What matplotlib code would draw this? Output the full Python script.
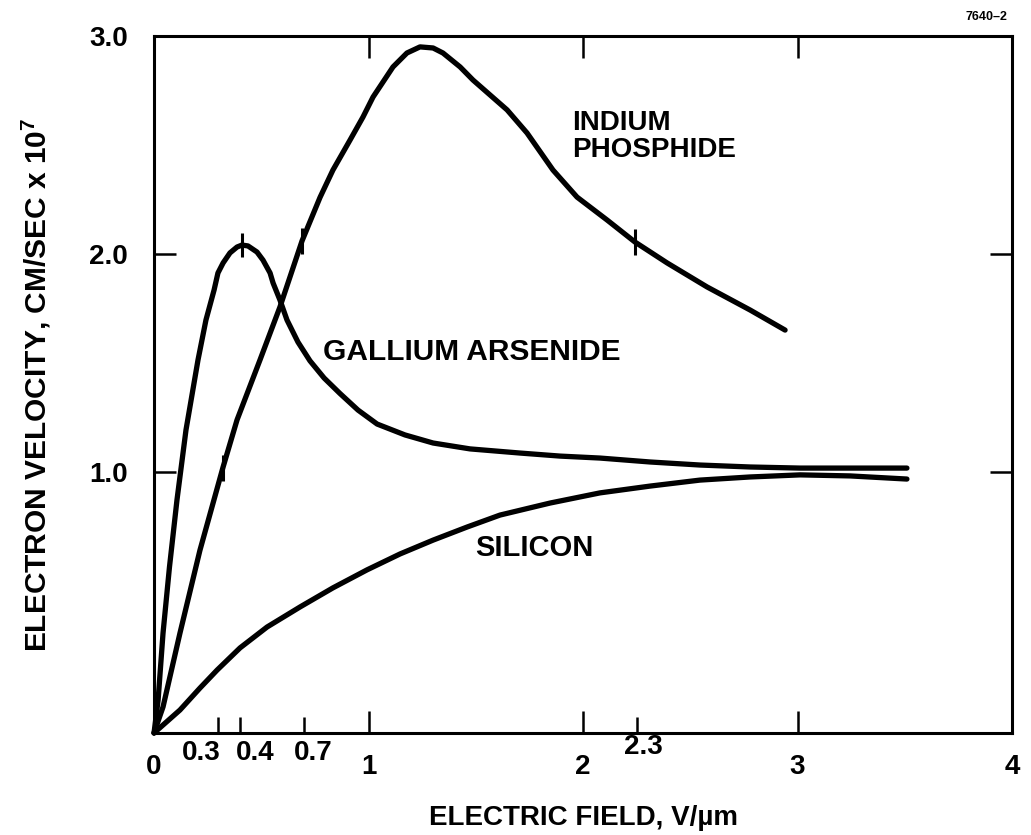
import numpy as np
import matplotlib
matplotlib.use('Agg')
import matplotlib.pyplot as plt

#----------------------------------------------------------------
#              DATA (field in V/um, velocity in 1e7 cm/s)
#----------------------------------------------------------------
gaas_field = [0, 0.019, 0.042, 0.072, 0.107, 0.149, 0.205, 0.242, 0.280, 0.298,
              0.322, 0.354, 0.387, 0.410, 0.438, 0.480, 0.508, 0.541, 0.555, 0.587,
              0.620, 0.671, 0.727, 0.793, 0.867, 0.951, 1.040, 1.170, 1.301, 1.473,
              1.706, 1.893, 2.079, 2.312, 2.545, 2.779, 3.012, 3.510]
gaas_vel = [0, 0.126, 0.383, 0.636, 0.893, 1.193, 1.514, 1.697, 1.835, 1.913,
            1.959, 2.005, 2.032, 2.041, 2.037, 2.009, 1.972, 1.913, 1.867, 1.789,
            1.697, 1.596, 1.51, 1.431, 1.36, 1.284, 1.22, 1.17, 1.133, 1.106,
            1.087, 1.073, 1.064, 1.046, 1.032, 1.023, 1.018, 1.018]

inp_field = [0, 0.042, 0.121, 0.214, 0.322, 0.387, 0.494, 0.587, 0.690, 0.774, 0.834,
             0.914, 0.974, 1.021, 1.114, 1.179, 1.240, 1.301, 1.347, 1.427, 1.487,
             1.646, 1.739, 1.860, 1.972, 2.112, 2.242, 2.392, 2.578, 2.779, 2.942]
inp_vel = [0, 0.10, 0.383, 0.70, 1.023, 1.239, 1.514, 1.757, 2.06, 2.26, 2.385,
           2.523, 2.628, 2.72, 2.858, 2.922, 2.95, 2.945, 2.922, 2.858, 2.798,
           2.661, 2.555, 2.385, 2.261, 2.156, 2.055, 1.959, 1.849, 1.743, 1.651]

si_field = [0, 0.121, 0.214, 0.294, 0.401, 0.527, 0.681, 0.834, 0.993, 1.147, 1.301,
            1.459, 1.613, 1.846, 2.079, 2.312, 2.545, 2.779, 3.012, 3.245, 3.510]
si_vel = [0, 0.088, 0.172, 0.241, 0.326, 0.406, 0.483, 0.556, 0.625, 0.686, 0.739,
          0.789, 0.835, 0.881, 0.920, 0.946, 0.969, 0.981, 0.989, 0.985, 0.973]

# threshold fields marked on the axis and on the curves (2.3 sits a bit left in the drawing)
thresh_pos = [0.3, 0.4, 0.7, 2.25]
thresh_labels = ['0.3', '0.4', '0.7', '2.3']
gaas_marks = [0.41]
inp_marks = [0.32, 0.69, 2.24]

x_ticks = [0, 1, 2, 3, 4]
y_ticks = [1.0, 2.0, 3.0]

#----------------------------------------------------------------
#              STYLE
#----------------------------------------------------------------
plt.rcParams['font.family'] = ['Liberation Sans', 'DejaVu Sans']
plt.rcParams['font.weight'] = 'bold'
plt.rcParams['mathtext.fontset'] = 'custom'
plt.rcParams['mathtext.rm'] = 'Liberation Sans:bold'
plt.rcParams['mathtext.bf'] = 'Liberation Sans:bold'

FS = 20
LW = 3.8

# the drawing's velocity axis is stretched below 1.0 (0..1 is longer than 1..2)
K = 1.197

def fwd(v):
    v = np.asarray(v, dtype=float)
    return np.where(v < 1, v * K, K + (v - 1))

def inv(u):
    u = np.asarray(u, dtype=float)
    return np.where(u < K, u / K, 1 + (u - K))


fig = plt.figure(figsize=(10.31, 8.35), dpi=100)
ax = fig.add_axes([0.1494, 0.1222, 0.8322, 0.8347])
ax.set_yscale('function', functions=(fwd, inv))
ax.set_xlim(0, 4)
ax.set_ylim(0, 3.0)

for xs, ys in [(gaas_field, gaas_vel), (inp_field, inp_vel), (si_field, si_vel)]:
    ax.plot(xs, ys, color='black', lw=LW, solid_capstyle='round', solid_joinstyle='round',
            clip_on=False)

# small tick marks across the curves at the threshold fields
ax.plot(gaas_marks, np.interp(gaas_marks, gaas_field, gaas_vel), ls='none', marker='|',
        ms=17, mew=2.2, color='black')
ax.plot(inp_marks, np.interp(inp_marks, inp_field, inp_vel), ls='none', marker='|',
        ms=19, mew=2.2, color='black')

# curve names
ax.text(1.949, 2.537, 'INDIUM\nPHOSPHIDE', fontsize=FS, fontweight='bold', ha='left',
        va='center', linespacing=1.05)
ax.text(0.788, 1.55, 'GALLIUM ARSENIDE', fontsize=21.5, fontweight='bold', ha='left',
        va='center')
ax.text(1.497, 0.709, 'SILICON', fontsize=21, fontweight='bold', ha='left', va='center')

# axes
for sp in ax.spines.values():
    sp.set_linewidth(2.2)

ax.set_xticks(x_ticks)
ax.set_xticklabels([str(t) for t in x_ticks])
ax.set_xticks(thresh_pos, minor=True)
ax.set_yticks(y_ticks)
ax.set_yticklabels(['%.1f' % t for t in y_ticks])
ax.yaxis.set_minor_locator(matplotlib.ticker.NullLocator())

ax.tick_params(which='major', direction='in', length=16, width=1.8, top=True, right=True,
               labelsize=FS)
ax.tick_params(axis='x', which='major', pad=15)
ax.tick_params(axis='y', which='major', pad=19)
ax.tick_params(axis='x', which='minor', direction='in', length=11.5, width=1.8, top=False,
               labelbottom=False)

# threshold labels sit closer to the axis and are nudged apart
label_dx = [-17, 15, 9, 7]
label_dy = [-20, -20, -20, -14]
for pos, lab, dx, dy in zip(thresh_pos, thresh_labels, label_dx, label_dy):
    ax.annotate(lab, xy=(pos, 0), xycoords=('data', 'axes fraction'), xytext=(dx, dy),
                textcoords='offset pixels', ha='center', va='center', fontsize=FS,
                fontweight='bold', annotation_clip=False)

ax.set_xlabel('ELECTRIC FIELD, V/\u00b5m', fontsize=FS, fontweight='bold', labelpad=18)
ax.set_ylabel(r'ELECTRON VELOCITY, CM/SEC x 10$^{7}$', fontsize=21.5, fontweight='bold',
              labelpad=26)

fig.text(0.977, 0.98, '7640\u20132', fontsize=9, fontweight='bold', ha='right', va='center')

fig.savefig('out.png', dpi=100)
